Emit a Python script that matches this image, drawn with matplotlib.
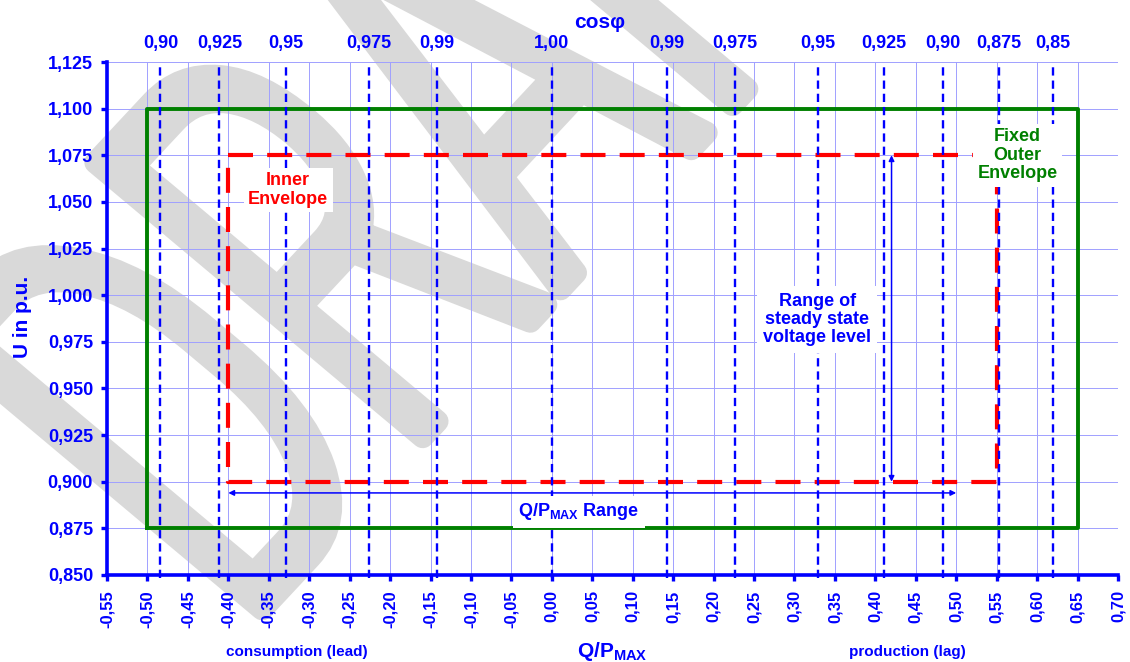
import numpy as np
import matplotlib
matplotlib.use('Agg')
import matplotlib.pyplot as plt
from matplotlib import font_manager
from matplotlib.textpath import TextPath
from matplotlib.patches import PathPatch
from matplotlib.font_manager import FontProperties
from matplotlib.transforms import Affine2D, IdentityTransform
from matplotlib.ticker import FuncFormatter

plt.rcParams['font.family'] = ['Liberation Sans', 'DejaVu Sans']
plt.rcParams['font.weight'] = 'bold'
plt.rcParams['mathtext.fontset'] = 'custom'
plt.rcParams['mathtext.rm'] = 'Liberation Sans:bold'
plt.rcParams['mathtext.bf'] = 'Liberation Sans:bold'
plt.rcParams['mathtext.it'] = 'Liberation Sans:bold'

BLUE = '#0000ff'
GREEN = '#008000'
RED = '#ff0000'

# cos(phi) reference lines (label, Q/Pmax position)
cosphi_labels = ['0,90', '0,925', '0,95', '0,975', '0,99', '1,00',
                 '0,99', '0,975', '0,95', '0,925', '0,90', '0,875', '0,85']
cosphi_q = [-0.484, -0.411, -0.329, -0.226, -0.142, 0.0,
            0.142, 0.226, 0.329, 0.411, 0.484, 0.553, 0.620]

# envelopes
outer_q = [-0.50, 0.65]
outer_u = [0.875, 1.100]
inner_q = [-0.40, 0.55]
inner_u = [0.900, 1.075]

# range arrows
qrange_q = [-0.40, 0.50]
qrange_u = 0.894
urange_u = [0.900, 1.075]
urange_q = 0.42

x_min, x_max = -0.55, 0.70
y_min, y_max = 0.850, 1.125

W, H = 1130, 662


def light_font():
    """Pick a thin sans font for the watermark, if one is installed."""
    for fam in ['Roboto', 'Lato', 'Open Sans', 'Inter', 'Noto Sans', 'DejaVu Sans']:
        for f in font_manager.fontManager.ttflist:
            w = f.weight if isinstance(f.weight, int) else 400
            if f.name == fam and w <= 300 and f.style == 'normal':
                return FontProperties(fname=f.fname), w
    return FontProperties(family='DejaVu Sans'), 400


fig = plt.figure(figsize=(W / 100, H / 100), dpi=100)
fig.patch.set_facecolor('white')

# watermark behind everything
wm_prop, wm_weight = light_font()
edge = 16 if wm_weight <= 300 else 3
tp = TextPath((0, 0), 'DRAFT', size=1, prop=wm_prop)
tr = Affine2D().skew_deg(-5, 0).scale(360, 600).rotate_deg(47).translate(240, 29)
wm = PathPatch(tr.transform_path(tp), facecolor='#d9d9d9', edgecolor='#d9d9d9',
               lw=edge, joinstyle='round', capstyle='round',
               transform=IdentityTransform(), zorder=-5)
fig.add_artist(wm)

ax = fig.add_axes([107 / W, 87 / H, 1011 / W, 513 / H])
ax.set_facecolor('none')
ax.set_xlim(x_min, x_max)
ax.set_ylim(y_min, y_max)


def comma_fmt(nd):
    def f(v, pos):
        if abs(v) < 1e-9:
            v = 0.0
        return f'{v:.{nd}f}'.replace('.', ',')
    return FuncFormatter(f)


ax.set_xticks(np.arange(-0.55, 0.7001, 0.05))
ax.set_yticks(np.arange(0.85, 1.1251, 0.025))
ax.xaxis.set_major_formatter(comma_fmt(2))
ax.yaxis.set_major_formatter(comma_fmt(3))
ax.set_axisbelow(True)
ax.grid(True, color='#a0a0ff', lw=0.7)

for s in ['top', 'right']:
    ax.spines[s].set_visible(False)
for s in ['left', 'bottom']:
    ax.spines[s].set_color(BLUE)
    ax.spines[s].set_linewidth(2.6)

ax.tick_params(axis='both', colors=BLUE, width=2.4, length=4, direction='out')
ax.tick_params(axis='x', labelsize=12, labelrotation=90, pad=7)
ax.tick_params(axis='y', labelsize=13, pad=6)
for lab in ax.get_xticklabels() + ax.get_yticklabels():
    lab.set_fontweight('bold')

# top axis with cos(phi) labels
sec = ax.secondary_xaxis('top')
sec.set_xticks(cosphi_q, labels=cosphi_labels)
sec.tick_params(length=0, pad=7, labelsize=13, colors=BLUE)
sec.spines['top'].set_visible(False)
for lab in sec.get_xticklabels():
    lab.set_fontweight('bold')

# outer envelope
ax.plot([outer_q[0], outer_q[1], outer_q[1], outer_q[0], outer_q[0]],
        [outer_u[0], outer_u[0], outer_u[1], outer_u[1], outer_u[0]],
        color=GREEN, lw=2.8, zorder=3)

# inner envelope
ax.plot([inner_q[0], inner_q[1], inner_q[1], inner_q[0], inner_q[0]],
        [inner_u[1], inner_u[1], inner_u[0], inner_u[0], inner_u[1]],
        color=RED, lw=3, dashes=(6, 3.4), zorder=3)

# cos(phi) dashed lines
ax.vlines(cosphi_q, 0.8484, 1.1223, colors=BLUE, lw=1.7,
          linestyles=(0, (3.5, 2.1)), clip_on=False, zorder=4)

# range arrows
arrow = dict(arrowstyle='<|-|>', color=BLUE, lw=1.1, mutation_scale=8,
             shrinkA=0, shrinkB=0)
ax.annotate('', xy=(qrange_q[0], qrange_u), xytext=(qrange_q[1], qrange_u),
            arrowprops=arrow, zorder=4)
ax.annotate('', xy=(urange_q, urange_u[1]), xytext=(urange_q, urange_u[0]),
            arrowprops=arrow, zorder=4)

box = dict(boxstyle='square,pad=0.25', fc='white', ec='none')
ax.text(-0.326, 1.0564, 'Inner\nEnvelope', color=RED, fontsize=13,
        fontweight='bold', ha='center', va='center', linespacing=1.1,
        bbox=box, zorder=6)
ax.text(0.576, 1.075, 'Fixed\nOuter\nEnvelope', color=GREEN, fontsize=13,
        fontweight='bold', ha='center', va='center', linespacing=1.1,
        bbox=box, zorder=6)
ax.text(0.328, 0.987, 'Range of\nsteady state\nvoltage level', color=BLUE,
        fontsize=13, fontweight='bold', ha='center', va='center',
        linespacing=1.1, bbox=dict(boxstyle='square,pad=0.35', fc='white', ec='none'),
        zorder=6)
ax.text(0.0336, 0.8838, r'$\mathbf{Q/P_{MAX}}$ Range', color=BLUE, fontsize=13,
        fontweight='bold', ha='center', va='center',
        bbox=dict(boxstyle='square,pad=0.3', fc='white', ec='none'), zorder=6)

# axis titles
fig.text(600 / W, 1 - 22 / H, 'cosφ', color=BLUE, fontsize=15,
         fontweight='bold', ha='center', va='center')
fig.text(22 / W, 1 - 317 / H, 'U in p.u.', color=BLUE, fontsize=15,
         fontweight='bold', ha='center', va='center', rotation=90)
fig.text(612 / W, 1 - 657 / H, r'$\mathbf{Q/P_{MAX}}$', color=BLUE,
         fontsize=15, ha='center', va='baseline')
fig.text(297 / W, 1 - 652 / H, 'consumption (lead)', color=BLUE, fontsize=11,
         fontweight='bold', ha='center', va='center')
fig.text(907 / W, 1 - 652 / H, 'production (lag)', color=BLUE, fontsize=11,
         fontweight='bold', ha='center', va='center')

fig.savefig('out.png', dpi=100)
